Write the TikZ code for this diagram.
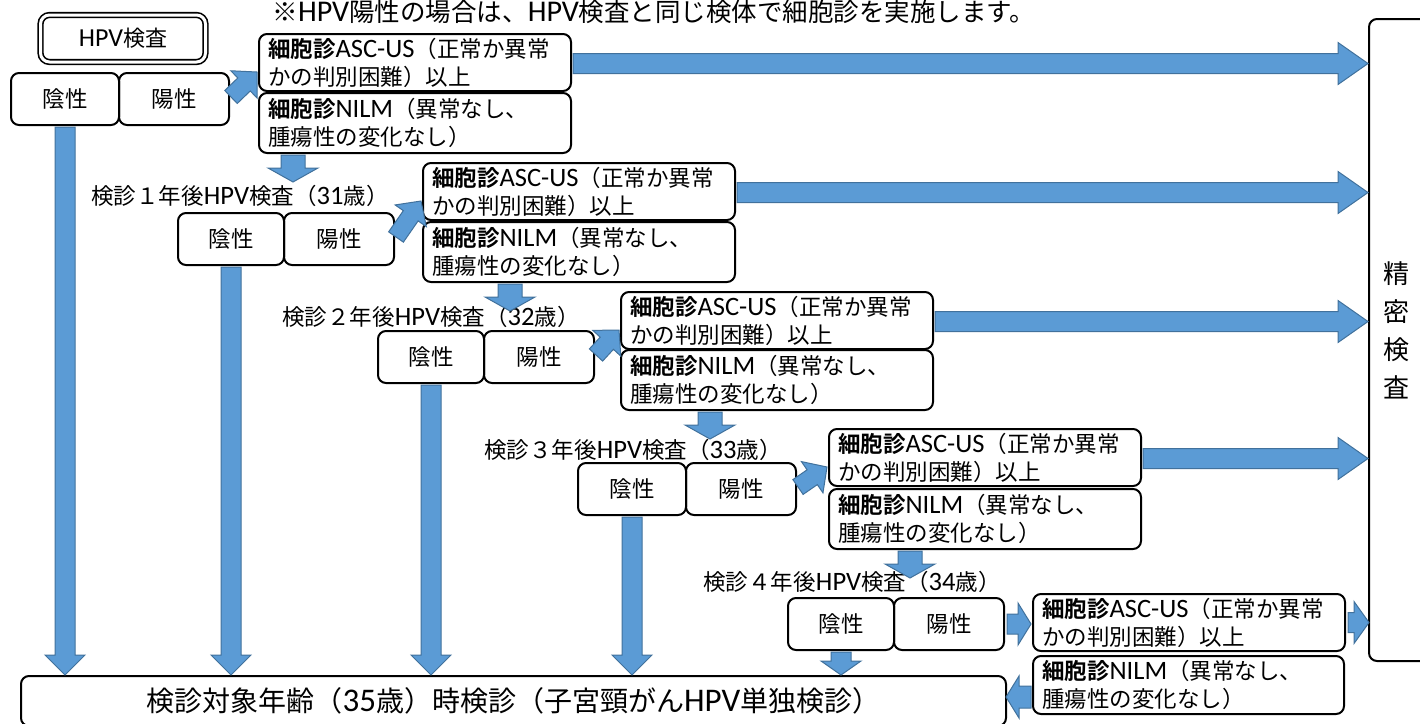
\documentclass[tikz,border=0pt]{standalone}
\usepackage{fontspec}
\setmainfont{Noto Sans CJK JP}[BoldFont={Noto Sans CJK JP Bold}]
\newfontfamily\latf{Carlito}[Scale=1.18]
\newcommand\la[1]{{\latf #1}}
\usetikzlibrary{calc}
\definecolor{arrfill}{RGB}{91,155,213}
\definecolor{arrline}{RGB}{65,113,156}
\newcommand\blockarrow[5]{%
  \coordinate (ba-h) at ($(#2)!#5!(#1)$);
  \filldraw[arr] ($(#1)!#3!90:(#2)$) -- ($(ba-h)!#3!90:(#2)$) -- ($(ba-h)!#4!90:(#2)$) -- (#2) -- ($(ba-h)!#4!-90:(#2)$) -- ($(ba-h)!#3!-90:(#2)$) -- ($(#1)!#3!-90:(#2)$) -- cycle;
}
\begin{document}
\begin{tikzpicture}[x=1pt,y=-1pt,
  box/.style={draw, line width=2pt, rounded corners=8pt, inner sep=0pt, font=\fontsize{22.5}{28}\selectfont},
  cbox/.style={box, anchor=north west, minimum width=312pt, minimum height=57pt, text width=294pt, align=left},
  nbox/.style={box, anchor=north west, minimum width=312pt, minimum height=60pt, text width=294pt, align=left},
  rbox/.style={box, anchor=north west, minimum height=52pt},
  lab/.style={font=\fontsize{22.5}{26}\selectfont, inner sep=0pt},
  arr/.style={fill=arrfill, draw=arrline, line width=1pt}
  ]
\useasboundingbox (0,0) rectangle (1420,723);

% title
\node[font=\fontsize{25.5}{30}\selectfont, inner sep=0pt] (title) at (654,12) {※\la{HPV}陽性の場合は、\la{HPV}検査と同じ検体で細胞診を実施します。};

% HPV test
\node[draw, double, double distance=3pt, line width=1.6pt, rounded corners=9pt, minimum width=165pt, minimum height=47pt, font=\fontsize{22}{24}\selectfont] (hpv) at (123,38.5) {\la{HPV}検査};

% result boxes
\node[rbox, minimum width=108pt] (in0) at (10,72) {陰性};
\node[rbox, minimum width=110pt] (yo0) at (118,72) {陽性};
\node[rbox, minimum width=106pt] (in1) at (177,212) {陰性};
\node[rbox, minimum width=110pt] (yo1) at (283,212) {陽性};
\node[rbox, minimum width=106pt] (in2) at (377,330) {陰性};
\node[rbox, minimum width=110pt] (yo2) at (483,330) {陽性};
\node[rbox, minimum width=108pt] (in3) at (577,462) {陰性};
\node[rbox, minimum width=110pt] (yo3) at (685,462) {陽性};
\node[rbox, minimum width=106pt] (in4) at (787,597) {陰性};
\node[rbox, minimum width=110pt] (yo4) at (893,597) {陽性};

% cytology boxes
\node[cbox] (asc0) at (258,33) {\textbf{細胞診}\la{ASC-US}（正常か異常\\かの判別困難）以上};
\node[nbox] (nilm0) at (258,92) {\textbf{細胞診}\la{NILM}（異常なし、\\腫瘍性の変化なし）};
\node[cbox] (asc1) at (422,162) {\textbf{細胞診}\la{ASC-US}（正常か異常\\かの判別困難）以上};
\node[nbox] (nilm1) at (422,221) {\textbf{細胞診}\la{NILM}（異常なし、\\腫瘍性の変化なし）};
\node[cbox] (asc2) at (620,291) {\textbf{細胞診}\la{ASC-US}（正常か異常\\かの判別困難）以上};
\node[nbox] (nilm2) at (620,349) {\textbf{細胞診}\la{NILM}（異常なし、\\腫瘍性の変化なし）};
\node[cbox] (asc3) at (828,428) {\textbf{細胞診}\la{ASC-US}（正常か異常\\かの判別困難）以上};
\node[nbox] (nilm3) at (828,488) {\textbf{細胞診}\la{NILM}（異常なし、\\腫瘍性の変化なし）};
\node[cbox] (asc4) at (1032,593) {\textbf{細胞診}\la{ASC-US}（正常か異常\\かの判別困難）以上};
\node[box, anchor=north west, minimum width=311pt, minimum height=58pt, text width=293pt, align=left] (nilm4) at (1032,655) {\textbf{細胞診}\la{NILM}（異常なし、\\腫瘍性の変化なし）};

% year labels
\node[lab] (lab1) at (240,196) {検診１年後\la{HPV}検査（\la{31}歳）};
\node[lab] (lab2) at (431,317) {検診２年後\la{HPV}検査（\la{32}歳）};
\node[lab] (lab3) at (633,450) {検診３年後\la{HPV}検査（\la{33}歳）};
\node[lab] (lab4) at (852,582) {検診４年後\la{HPV}検査（\la{34}歳）};

% final boxes
\node[box, anchor=north west, minimum width=985pt, minimum height=50pt, font=\fontsize{28}{30}\selectfont] (res) at (20,675) {検診対象年齢（\la{35}歳）時検診（子宮頸がん\la{HPV}単独検診）};
\node[box, anchor=north west, minimum width=80pt, minimum height=642pt] (sei) at (1368,18) {};
\node[font=\fontsize{26}{38}\selectfont, align=center, inner sep=0pt] (seitxt) at (1396,330) {精\\密\\検\\査};

% long right arrows to 精密検査
\foreach \i in {0,1,2,3}{
  \coordinate (rs\i) at ($(asc\i.east)+(1,1)$);
  \coordinate (re\i) at ($(asc\i.east -| sei.west)+(0,1)$);
  \blockarrow{rs\i}{re\i}{10pt}{21pt}{30pt}
}
\coordinate (rs4) at ($(asc4.east)+(2,0)$);
\coordinate (re4) at ($(asc4.east -| sei.west)+(1,0)$);
\blockarrow{rs4}{re4}{10pt}{21pt}{15pt}

% long down arrows to final box
\foreach \i in {0,1,2,3}{
  \coordinate (ds\i) at ($(in\i.south)+(0,1)$);
  \coordinate (de\i) at (in\i.south |- res.north);
  \blockarrow{ds\i}{de\i}{10pt}{20pt}{20pt}
}
\coordinate (ds4) at ($(in4.south)+(0,1)$);
\coordinate (de4) at (in4.south |- res.north);
\blockarrow{ds4}{de4}{10pt}{20pt}{14pt}

% diagonal arrows from 陽性 to cytology
\foreach \i in {0,1,2,3}{
  \coordinate (gs\i) at ($(yo\i.east)+(1,-2)$);
  \coordinate (ge\i) at ($(asc\i.south west)+(-1,-20)$);
  \blockarrow{gs\i}{ge\i}{9pt}{19pt}{18pt}
}
\coordinate (gs4) at ($(yo4.east)+(2,0)$);
\coordinate (ge4) at ($(yo4.east -| asc4.west)+(-1,0)$);
\blockarrow{gs4}{ge4}{10pt}{21pt}{13pt}

% short down arrows from NILM
\coordinate (ns0) at ($(nilm0.south west)+(35,1)$);
\coordinate (ns1) at ($(nilm1.south west)+(88,1)$);
\coordinate (ns2) at ($(nilm2.south west)+(90,1)$);
\coordinate (ns3) at ($(nilm3.south west)+(82,1)$);
\foreach \i in {0,1,2,3}{
  \coordinate (ne\i) at ($(ns\i)+(0,27)$);
  \blockarrow{ns\i}{ne\i}{12pt}{25pt}{14pt}
}

% NILM (34) back to final exam
\coordinate (bs) at ($(nilm4.west)+(-1,12)$);
\coordinate (be) at ($(nilm4.west -| res.east)+(-1,12)$);
\blockarrow{bs}{be}{11pt}{21pt}{13pt}
\end{tikzpicture}
\end{document}
